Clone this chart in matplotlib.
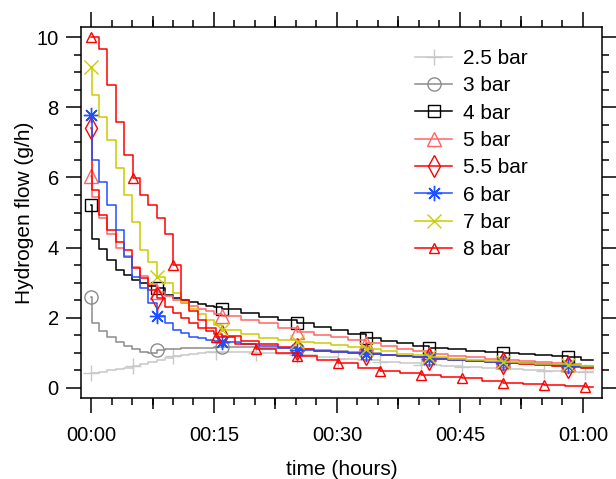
import matplotlib
matplotlib.use("Agg")
import matplotlib.pyplot as plt
from matplotlib.ticker import MultipleLocator, FixedLocator

plt.rcParams['font.family'] = ['Liberation Sans', 'DejaVu Sans']

# ---------------- data (time in minutes, flow in g/h) ----------------
TIME_A = [0, 0.1, 1, 2, 3, 4, 5, 6, 7, 8.05, 9, 10, 11, 12, 13, 14, 15, 16,
          18.3, 20.5, 22.8, 25.1, 27.2, 29.3, 31.4, 33.5, 35.4, 37.3, 39.3,
          41.2, 43.5, 45.7, 48, 50.2, 52.2, 54.2, 56.2, 58.2, 59.7, 61.2]
MARK_A = [0, 8.05, 16, 25.1, 33.5, 41.2, 50.2, 58.2]

TIME_B = [0, 1, 2, 3, 4, 5.1, 6, 7, 8, 9, 10, 11, 12, 13, 14, 15.2, 17.6,
          20.1, 22.6, 25.1, 27.6, 30.1, 32.6, 35.2, 37.7, 40.2, 42.7, 45.2,
          47.7, 50.2, 52.7, 55.3, 57.8, 60.3, 61.2]
MARK_B = [0, 5.1, 10, 15.2, 20.1, 25.1, 30.1, 35.2, 40.2, 45.2, 50.2, 55.3, 60.3]

flow_2_5bar = [0.42, 0.45, 0.5, 0.53, 0.58, 0.62, 0.68, 0.73, 0.8, 0.85, 0.9,
               0.94, 0.98, 1.0, 1.02, 1.03, 1.02, 1.0, 0.97, 0.93, 0.88, 0.83,
               0.79, 0.74, 0.7, 0.66, 0.62, 0.59, 0.56, 0.53, 0.51, 0.49, 0.47,
               0.45, 0.45]
flow_3bar = [2.6, 1.85, 1.62, 1.45, 1.32, 1.2, 1.1, 1.03, 1.0, 1.08, 1.1, 1.12,
             1.13, 1.14, 1.15, 1.15, 1.16, 1.16, 1.16, 1.15, 1.13, 1.1, 1.07,
             1.04, 1.02, 0.99, 0.95, 0.92, 0.89, 0.86, 0.82, 0.78, 0.75, 0.72,
             0.69, 0.66, 0.64, 0.62, 0.58, 0.58]
flow_4bar = [5.2, 4.24, 3.95, 3.65, 3.36, 3.22, 3.08, 2.99, 2.92, 2.84, 2.65,
             2.55, 2.5, 2.46, 2.38, 2.33, 2.3, 2.24, 2.13, 2.03, 1.95, 1.85,
             1.75, 1.65, 1.55, 1.42, 1.35, 1.28, 1.21, 1.15, 1.1, 1.06, 1.03,
             1.0, 0.96, 0.93, 0.9, 0.87, 0.8, 0.8]
flow_5bar = [6.05, 5.45, 4.85, 4.4, 4.0, 3.75, 3.45, 3.2, 2.95, 2.74, 2.62, 2.5,
             2.42, 2.35, 2.25, 2.18, 2.12, 2.05, 1.95, 1.85, 1.72, 1.6, 1.52,
             1.45, 1.37, 1.28, 1.2, 1.12, 1.05, 0.98, 0.92, 0.87, 0.83, 0.8,
             0.76, 0.73, 0.7, 0.68, 0.62, 0.62]
flow_5_5bar = [7.4, 5.64, 4.93, 4.5, 4.17, 3.93, 3.41, 3.12, 2.79, 2.55, 2.3,
               2.15, 2.0, 1.85, 1.72, 1.62, 1.55, 1.47, 1.35, 1.25, 1.17, 1.1,
               1.06, 1.03, 1.0, 0.97, 0.93, 0.9, 0.87, 0.84, 0.8, 0.77, 0.74,
               0.71, 0.68, 0.65, 0.63, 0.61, 0.56, 0.56]
flow_6bar = [7.78, 6.5, 5.88, 5.21, 4.5, 3.74, 3.17, 2.85, 2.41, 2.05, 1.84,
             1.65, 1.56, 1.46, 1.42, 1.37, 1.35, 1.32, 1.25, 1.2, 1.14, 1.08,
             1.05, 1.02, 0.99, 0.96, 0.93, 0.9, 0.87, 0.84, 0.8, 0.77, 0.75,
             0.72, 0.7, 0.68, 0.66, 0.64, 0.6, 0.6]
flow_7bar = [9.15, 8.35, 7.73, 7.07, 6.26, 5.5, 4.74, 3.93, 3.6, 3.15, 3.0, 2.7,
             2.46, 2.25, 2.1, 1.95, 1.8, 1.65, 1.55, 1.42, 1.38, 1.32, 1.27,
             1.22, 1.18, 1.12, 1.05, 0.98, 0.93, 0.88, 0.84, 0.8, 0.77, 0.74,
             0.71, 0.69, 0.67, 0.65, 0.63, 0.63]
flow_8bar = [10.0, 9.66, 8.63, 7.58, 6.65, 5.98, 5.5, 5.2, 4.85, 4.4, 3.5, 2.5,
             2.2, 1.95, 1.72, 1.45, 1.25, 1.12, 1.0, 0.9, 0.8, 0.7, 0.58, 0.49,
             0.42, 0.37, 0.32, 0.28, 0.2, 0.13, 0.1, 0.085, 0.06, 0.04, 0.04]

labels = ["2.5 bar", "3 bar", "4 bar", "5 bar", "5.5 bar", "6 bar", "7 bar", "8 bar"]
x_tick_pos = [0, 15, 30, 45, 60]
x_tick_labels = ["00:00", "00:15", "00:30", "00:45", "01:00"]
y_ticks = [0, 2, 4, 6, 8, 10]

# ---------------- styles ----------------
series = [
    (TIME_B, flow_2_5bar, MARK_B, dict(color='#C8C8C8', marker='+', ms=12, mew=1.0)),
    (TIME_A, flow_3bar, MARK_A, dict(color='#8C8C8C', marker='o', ms=9.5, mfc='none', mew=1.0)),
    (TIME_A, flow_4bar, MARK_A, dict(color='#000000', marker='s', ms=9, mfc='none', mew=1.0)),
    (TIME_A, flow_5bar, MARK_A, dict(color='#FF6464', marker='^', ms=10, mfc='none', mew=1.0)),
    (TIME_A, flow_5_5bar, MARK_A, dict(color='#FF0000', marker='d', ms=11, mfc='none', mew=1.0)),
    (TIME_A, flow_6bar, MARK_A, dict(color='#2050FF', marker=(8, 2, 0), ms=11, mew=1.0)),
    (TIME_A, flow_7bar, MARK_A, dict(color='#CCCC00', marker='x', ms=9.5, mew=1.0)),
    (TIME_B, flow_8bar, MARK_B, dict(color='#FF0000', marker='^', ms=7, mfc='none', mew=1.0)),
]

fig = plt.figure(figsize=(6.16, 4.79), dpi=100)
ax = fig.add_axes([81 / 616, 81 / 479, 521 / 616, 371 / 479])

for (t, v, marks, st), lab in zip(series, labels):
    idx = [t.index(m) for m in marks]
    ax.plot(t, v, drawstyle='steps-post', lw=1.1, markevery=idx, label=lab, **st)

ax.set_xlim(-1.22, 62.32)
ax.set_ylim(-0.285, 10.285)

ax.set_xticks(x_tick_pos)
ax.set_xticklabels(x_tick_labels)
ax.set_yticks(y_ticks)
ax.xaxis.set_minor_locator(MultipleLocator(2.5))
ax.yaxis.set_minor_locator(MultipleLocator(0.5))

for s in ax.spines.values():
    s.set_linewidth(1.1)

ax.tick_params(which='both', direction='out', top=True, right=True, width=1.1,
               labelsize=14.5, pad=5)
ax.tick_params(axis='x', which='major', pad=9)
ax.tick_params(which='major', length=11)
ax.tick_params(which='minor', length=5)

# medium ticks at half-major positions on the time axis
for loc in ('bottom', 'top'):
    sec = ax.secondary_xaxis(loc)
    sec.xaxis.set_major_locator(FixedLocator([7.5, 22.5, 37.5, 52.5]))
    sec.tick_params(direction='out', length=8, width=1.1, labelbottom=False,
                    labeltop=False)
    sec.set_xticklabels([])
    for s in sec.spines.values():
        s.set_visible(False)

ax.set_xlabel("time (hours)", fontsize=15, labelpad=11)
ax.set_ylabel("Hydrogen flow (g/h)", fontsize=15, labelpad=2)

ax.legend(loc='upper left', bbox_to_anchor=(0.641, 0.941), frameon=False,
          fontsize=15, handlelength=1.8, handletextpad=0.5,
          labelspacing=0.40, borderpad=0, borderaxespad=0, numpoints=1)

fig.savefig("out.png", dpi=100)
